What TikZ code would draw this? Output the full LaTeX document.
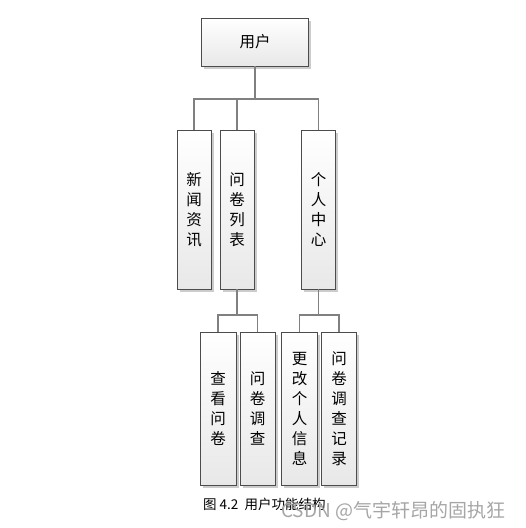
\documentclass[tikz,border=0pt]{standalone}
\usepackage{fontspec}
\newfontfamily\cjk{Noto Sans CJK SC}
\usetikzlibrary{shadows}
\tikzset{
  box/.style={draw=black!70, line width=0.9pt, top color=white, bottom color=black!9,
    inner sep=0pt, align=center, font=\cjk\fontsize{15.5}{20}\selectfont,
    drop shadow={shadow xshift=2.5pt, shadow yshift=-2.5pt, fill=black!20, opacity=1}},
  link/.style={draw=black!50, line width=1.3pt}
}
\begin{document}
\begin{tikzpicture}[x=1pt,y=-1pt]
\useasboundingbox[fill=white] (0,0) rectangle (526,528);
\node[box, minimum width=107pt, minimum height=48pt] (top) at (255,42) {用户};
\node[box, minimum width=34pt, minimum height=159pt] (n1) at (194,209.5) {新\\闻\\资\\讯};
\node[box, minimum width=34pt, minimum height=159pt] (n2) at (237,209.5) {问\\卷\\列\\表};
\node[box, minimum width=34pt, minimum height=159pt] (n3) at (318.5,209.5) {个\\人\\中\\心};
\node[box, minimum width=36pt, minimum height=153pt] (m1) at (218,408.5) {查\\看\\问\\卷};
\node[box, minimum width=35pt, minimum height=153pt] (m2) at (257.5,408.5) {问\\卷\\调\\查};
\node[box, minimum width=36pt, minimum height=153pt] (m3) at (299.5,408.5) {更\\改\\个\\人\\信\\息};
\node[box, minimum width=35pt, minimum height=153pt] (m4) at (339,408.5) {问\\卷\\调\\查\\记\\录};
\coordinate (j1) at (255,99);
\coordinate (j2) at (237,315);
\coordinate (j3) at (318.5,315);
\draw[link] (top.south) -- (j1);
\draw[link] (n1.north) |- (n3.north |- j1) -- (n3.north);
\draw[link] (n2.north) -- (n2.north |- j1);
\draw[link] (n2.south) -- (j2);
\draw[link] (m1.north) |- (m2.north |- j2) -- (m2.north);
\draw[link] (n3.south) -- (j3);
\draw[link] (m3.north) |- (m4.north |- j3) -- (m4.north);
\node[anchor=west, inner sep=0pt, font=\cjk\fontsize{13.5}{15}\selectfont] (cap) at (203,504) {图 4.2\ \ 用户功能结构};
\node[anchor=west, inner sep=0pt, text=black!35, font=\cjk\fontsize{19}{21}\selectfont] (wm) at (281,511) {CSDN @气宇轩昂的固执狂};
\end{tikzpicture}
\end{document}
